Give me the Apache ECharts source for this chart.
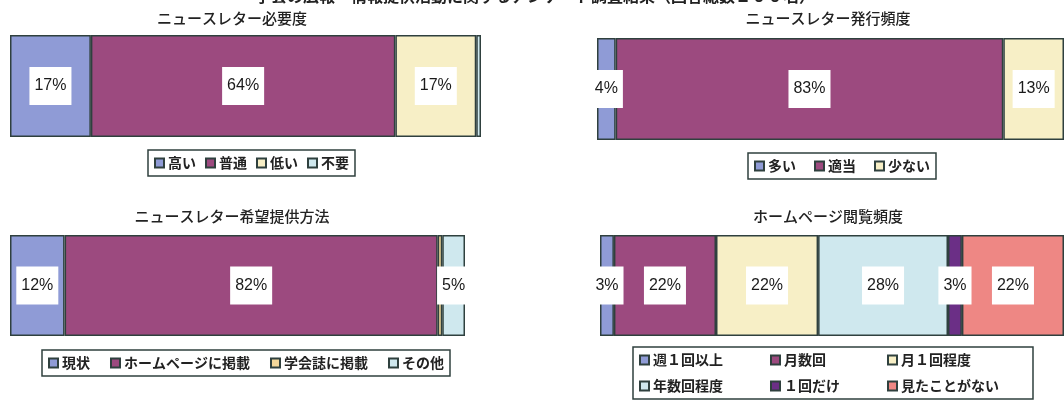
<!DOCTYPE html>
<html>
<head>
<meta charset="utf-8">
<script src="https://cdn.jsdelivr.net/npm/echarts@6/dist/echarts.min.js"></script>
<style>
  html, body { margin: 0; padding: 0; background: #fff; }
  #chart { width: 1064px; height: 408px; }
</style>
</head>
<body>
<div id="chart"></div>
<script>
// データ（各パネル）
var mainTitle = '学会の広報・情報提供活動に関するアンケート調査結果（回答総数１００名）'
var panelTitles = ['ニュースレター必要度', 'ニュースレター発行頻度', 'ニュースレター希望提供方法', 'ホームページ閲覧頻度']

var needNames = ['高い', '普通', '低い', '不要']
var needValues = [17, 64, 17, 1]

var freqNames = ['多い', '適当', '少ない']
var freqValues = [4, 83, 13]

var methodNames = ['現状', 'ホームページに掲載', '学会誌に掲載', 'その他']
var methodValues = [12, 82, 1, 5]

var hpNames = ['週１回以上', '月数回', '月１回程度', '年数回程度', '１回だけ', '見たことがない']
var hpValues = [3, 22, 22, 28, 3, 22]

var needColors = ['#8f9bd6', '#9c4a7f', '#f7efc6', '#cfe8ee']
var freqColors = ['#8f9bd6', '#9c4a7f', '#f7efc6']
var methodColors = ['#8f9bd6', '#9c4a7f', '#f3d79a', '#cfe8ee']
var hpColors = ['#8f9bd6', '#9c4a7f', '#f7efc6', '#cfe8ee', '#6b2f86', '#ee8784']

var panels = [
  { names: needNames, values: needValues, colors: needColors },
  { names: freqNames, values: freqValues, colors: freqColors },
  { names: methodNames, values: methodValues, colors: methodColors },
  { names: hpNames, values: hpValues, colors: hpColors }
]

var grids = [
  { left: 10, top: 35, width: 471, height: 102 },
  { left: 597, top: 38, width: 470, height: 102 },
  { left: 10, top: 235, width: 455, height: 101 },
  { left: 600, top: 235, width: 464, height: 101 }
]

var titlePos = [[232, 11], [828, 11], [232, 209], [828, 209]]

var legendPos = [
  { left: 148, top: 150, gap: 9 },
  { left: 748, top: 153, gap: 18 },
  { left: 42, top: 350, gap: 20 },
  { left: 633, top: 347, gap: 12, width: 395 }
]
// 凡例（ホームページ閲覧頻度）の列幅：全角文字数
var hpColumnChars = [7.5, 6.5, 9]

var fontJP = '"Noto Sans CJK JP", sans-serif'
var borderColor = '#2f403e'

var titles = [{
  text: mainTitle,
  left: 530,
  top: -17,
  textAlign: 'center',
  textStyle: { fontFamily: fontJP, fontSize: 16, fontWeight: 'bold', color: '#222' }
}]
var xAxes = []
var yAxes = []
var series = []
var legends = []

panels.forEach(function (p, i) {
  var total = p.values.reduce(function (a, b) { return a + b }, 0)
  titles.push({
    text: panelTitles[i],
    left: titlePos[i][0],
    top: titlePos[i][1],
    textAlign: 'center',
    padding: 0,
    textStyle: { fontFamily: fontJP, fontSize: 15, fontWeight: 500, color: '#222' }
  })
  xAxes.push({ type: 'value', gridIndex: i, min: 0, max: total, show: false })
  yAxes.push({ type: 'category', gridIndex: i, data: [''], show: false })
  p.names.forEach(function (name, j) {
    series.push({
      type: 'bar',
      name: name,
      xAxisIndex: i,
      yAxisIndex: i,
      stack: 'p' + i,
      barWidth: '100%',
      data: [p.values[j]],
      itemStyle: { color: p.colors[j], borderColor: borderColor, borderWidth: 1.5 },
      label: {
        show: p.values[j] > 1,
        position: 'inside',
        formatter: '{c}%',
        backgroundColor: '#fff',
        padding: [11, 5],
        color: '#1a1a1a',
        fontSize: 16,
        fontFamily: '"Liberation Sans", Arial, sans-serif'
      }
    })
  })
  var lp = legendPos[i]
  var leg = {
    data: p.names,
    left: lp.left,
    top: lp.top,
    orient: 'horizontal',
    backgroundColor: '#fff',
    borderColor: borderColor,
    borderWidth: 1.5,
    padding: [6, 6],
    itemWidth: 9,
    itemHeight: 9,
    itemGap: lp.gap,
    icon: 'rect',
    selectedMode: false,
    textStyle: { fontFamily: fontJP, fontSize: 14, fontWeight: 'bold', color: '#222', padding: [0, 0, 0, -1] }
  }
  if (lp.width) {
    // 3列×2行：全角スペースで列をそろえる
    leg.width = lp.width
    leg.padding = [6, 6]
    leg.formatter = function (name) {
      var idx = p.names.indexOf(name)
      var n = hpColumnChars[idx % 3] - name.length
      var s = name
      while (n >= 1) { s += '\u3000'; n -= 1 }
      if (n > 0) s += '\u2002'
      return s
    }
  }
  legends.push(leg)
})

var chart = echarts.init(document.getElementById('chart'), null, { renderer: 'canvas' })
chart.setOption({
  animation: false,
  title: titles,
  grid: grids,
  xAxis: xAxes,
  yAxis: yAxes,
  legend: legends,
  series: series
})
</script>
</body>
</html>
